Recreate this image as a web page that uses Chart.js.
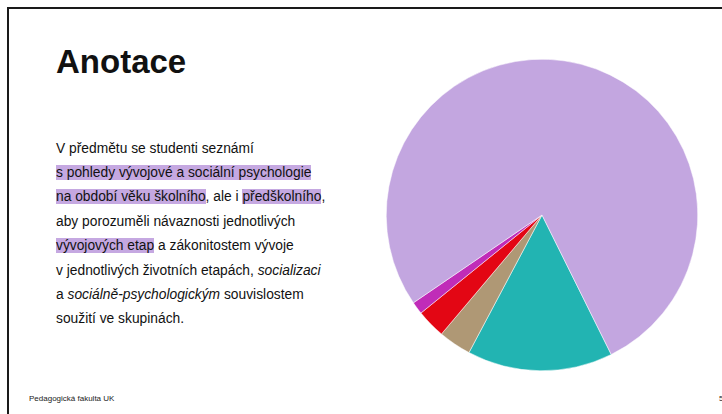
<!DOCTYPE html>
<html lang="cs">
<head>
<meta charset="utf-8">
<title>Anotace</title>
<script src="https://cdn.jsdelivr.net/npm/chart.js@4"></script>
<style>
  html, body { margin: 0; padding: 0; background: #fff; overflow: hidden; }
  body { width: 722px; height: 414px; position: relative; font-family: "Liberation Sans", Arial, sans-serif; color: #111; }
  .frame { position: absolute; left: 7px; top: 7px; width: 760px; height: 460px; border: 2px solid #1a1a1a; box-sizing: border-box; }
  h1 { position: absolute; left: 56px; top: 42px; margin: 0; font-size: 33px; font-weight: bold; line-height: 40px; }
  .text { position: absolute; left: 56px; top: 136.5px; font-size: 13.8px; line-height: 24.4px; white-space: nowrap; }
  .hl { background: #c5a8e1; }
  .foot { position: absolute; top: 394px; font-size: 8px; color: #222; }
  #pieWrap { position: absolute; left: 386px; top: 59px; width: 312px; height: 312px; }
</style>
</head>
<body>
<div class="frame"></div>
<h1>Anotace</h1>
<div class="text">
V předmětu se studenti seznámí<br>
<span class="hl">s pohledy vývojové a sociální psychologie</span><br>
<span class="hl">na období věku školního</span>, ale i <span class="hl">předškolního</span>,<br>
aby porozuměli návaznosti jednotlivých<br>
<span class="hl">vývojových etap</span> a zákonitostem vývoje<br>
v jednotlivých životních etapách, <i>socializaci</i><br>
a <i>sociálně-psychologickým</i> souvislostem<br>
soužití ve skupinách.
</div>
<div class="foot" style="left:29px">Pedagogická fakulta UK</div>
<div class="foot" style="left:719px">5</div>
<div id="pieWrap"><canvas id="pie"></canvas></div>

<script>
// podíly výseků (v %), po směru hodinových ručiček
var segments = ['A', 'B', 'C', 'D', 'E'];
var shares = [15.1, 3.4, 3.0, 1.3, 77.2];
var colors = ['#22b4b2', '#af9875', '#e30614', '#c02cb8', '#c3a6e0'];

var ctx = document.getElementById('pie').getContext('2d');
var pieChart = new Chart(ctx, {
    type: 'pie',
    data: {
        labels: segments,
        datasets: [{
            data: shares,
            backgroundColor: colors,
            borderColor: '#ffffff',
            borderWidth: 0.5
        }]
    },
    options: {
        responsive: true,
        maintainAspectRatio: false,
        animation: false,
        rotation: 153.6,
        layout: { padding: 0 },
        plugins: {
            legend: { display: false },
            tooltip: { enabled: false }
        }
    }
});
</script>
</body>
</html>
